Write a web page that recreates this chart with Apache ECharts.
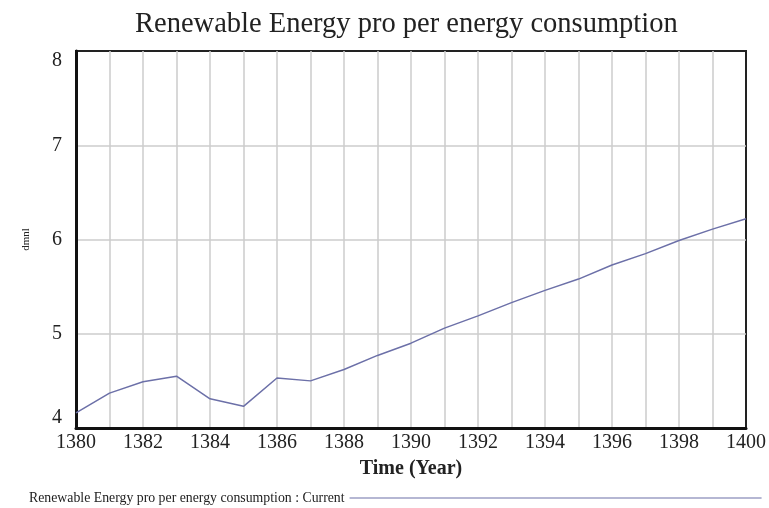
<!DOCTYPE html>
<html>
<head>
<meta charset="utf-8">
<script src="https://cdn.jsdelivr.net/npm/echarts@6/dist/echarts.min.js"></script>
<style>
html, body { margin: 0; padding: 0; background: #fff; }
#chart { width: 769px; height: 508px; }
</style>
</head>
<body>
<div id="chart"></div>
<script>
var years = [1380, 1381, 1382, 1383, 1384, 1385, 1386, 1387, 1388, 1389, 1390,
    1391, 1392, 1393, 1394, 1395, 1396, 1397, 1398, 1399, 1400];
var current = [4.16, 4.37, 4.49, 4.55, 4.31, 4.23, 4.53, 4.50, 4.62, 4.77, 4.90,
    5.06, 5.19, 5.33, 5.46, 5.58, 5.73, 5.85, 5.99, 6.11, 6.22];
var seriesName = 'Renewable Energy pro per energy consumption : Current';

var chart = echarts.init(document.getElementById('chart'));
var serif = '"Liberation Serif", "Times New Roman", serif';

var pts = [];
for (var i = 0; i < years.length; i++) {
    pts.push([years[i], current[i]]);
}

var option = {
    backgroundColor: '#fff',
    animation: false,
    title: {
        text: 'Renewable Energy pro per energy consumption',
        left: 130,
        top: 5,
        textStyle: { fontFamily: serif, fontSize: 28.5, fontWeight: 'normal', color: '#222' }
    },
    legend: {
        left: 24,
        top: 486,
        align: 'right',
        icon: 'rect',
        itemWidth: 412,
        itemHeight: 1,
        itemGap: 0,
        textStyle: { fontFamily: serif, fontSize: 13.8, color: '#222', padding: [0, 0, 0, 0] },
        data: [seriesName]
    },
    grid: {
        left: 76, right: 21, top: 51, bottom: 80,
        show: true, borderColor: '#222', borderWidth: 2
    },
    xAxis: {
        type: 'value',
        min: 1380, max: 1400, interval: 2,
        name: 'Time (Year)',
        nameLocation: 'middle',
        nameGap: 31,
        nameTextStyle: { fontFamily: serif, fontSize: 20, fontWeight: 'bold', color: '#222' },
        axisLine: { lineStyle: { color: '#111', width: 3 } },
        axisTick: { show: false },
        axisLabel: {
            fontFamily: serif, fontSize: 20, color: '#222', margin: 5,
            formatter: function (v) { return String(v); }
        },
        splitLine: { showMinLine: false, showMaxLine: false, lineStyle: { color: '#cccccc', width: 1.5 } },
        minorTick: { show: false, splitNumber: 2 },
        minorSplitLine: { show: true, lineStyle: { color: '#cccccc', width: 1.5 } }
    },
    yAxis: {
        type: 'value',
        min: 4, max: 8, interval: 1,
        name: 'dmnl',
        nameLocation: 'middle',
        nameGap: 44,
        nameTextStyle: { fontFamily: serif, fontSize: 11, color: '#222' },
        axisLine: { show: true, lineStyle: { color: '#111', width: 3 } },
        axisTick: { show: false },
        axisLabel: {
            fontFamily: serif, fontSize: 20, color: '#222', margin: 14,
            verticalAlignMinLabel: 'bottom', verticalAlignMaxLabel: 'top'
        },
        splitLine: { showMinLine: false, showMaxLine: false, lineStyle: { color: '#cccccc', width: 1.5 } }
    },
    series: [{
        name: seriesName,
        type: 'line',
        data: pts,
        showSymbol: false,
        itemStyle: { color: '#6c70a8' },
        lineStyle: { color: '#6c70a8', width: 1.5 }
    }]
};
chart.setOption(option);
</script>
</body>
</html>
